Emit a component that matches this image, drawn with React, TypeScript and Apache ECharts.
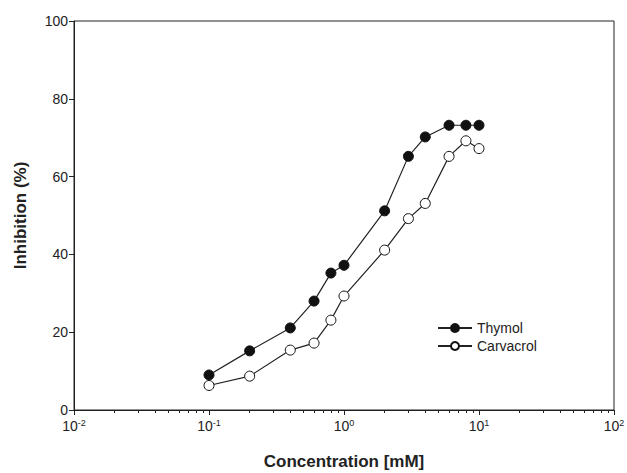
import React, { useEffect, useRef } from "react";
import * as echarts from "echarts";

const concentrations = [0.1, 0.2, 0.4, 0.6, 0.8, 1, 2, 3, 4, 6, 8, 10];
const thymol = [9.0, 15.2, 21.1, 28.0, 35.2, 37.2, 51.2, 65.2, 70.2, 73.2, 73.2, 73.2];
const carvacrol = [6.3, 8.7, 15.4, 17.2, 23.1, 29.3, 41.1, 49.2, 53.1, 65.2, 69.2, 67.2];
const majorTicks = [0.01, 0.1, 1, 10, 100];
const minorTicks = [
  0.02, 0.03, 0.04, 0.05, 0.06, 0.07, 0.08, 0.09,
  0.2, 0.3, 0.4, 0.5, 0.6, 0.7, 0.8, 0.9,
  2, 3, 4, 5, 6, 7, 8, 9,
  20, 30, 40, 50, 60, 70, 80, 90,
];

const FONT = "Liberation Sans, Arial, sans-serif";
const INK = "#222";

export default function App() {
  const ref = useRef<HTMLDivElement>(null);
  useEffect(() => {
    if (!ref.current) return;
    const chart = echarts.init(ref.current, undefined, { renderer: "svg" });
    chart.setOption({
      animation: false,
      backgroundColor: "#fff",
      textStyle: { fontFamily: FONT },
      grid: {
        left: 74,
        right: 13,
        top: 21,
        bottom: 63,
        containLabel: false,
        outerBoundsMode: "none",
        show: true,
        borderColor: INK,
        borderWidth: 1,
      },
      legend: {
        orient: "vertical",
        left: 432,
        top: 316,
        itemWidth: 34,
        itemHeight: 10,
        itemGap: 4,
        textStyle: { fontSize: 14, color: INK, fontFamily: FONT },
        data: ["Thymol", "Carvacrol"],
      },
      xAxis: [
        {
          type: "log",
          logBase: 10,
          min: 0.01,
          max: 100,
          name: "Concentration [mM]",
          nameLocation: "middle",
          nameGap: 43,
          nameTextStyle: { fontSize: 17, fontWeight: "bold", color: INK, fontFamily: FONT },
          axisLine: { lineStyle: { color: INK, width: 1 } },
          axisTick: { show: true, length: 5, inside: false, customValues: majorTicks, lineStyle: { color: INK } },
          axisLabel: {
            color: INK,
            fontSize: 14,
            margin: 8,
            customValues: majorTicks,
            formatter: (v: number) => {
              const e = Math.round(Math.log10(v));
              return "10{sup|" + e + "}";
            },
            rich: {
              sup: { fontSize: 9, verticalAlign: "top", color: INK, padding: [0, 0, 6, 0] },
            },
          },
          splitLine: { show: false },
        },
        {
          type: "log",
          logBase: 10,
          min: 0.01,
          max: 100,
          position: "bottom",
          axisLine: { show: false },
          axisTick: { show: true, length: 3, inside: false, customValues: minorTicks, lineStyle: { color: INK } },
          axisLabel: { show: false },
          splitLine: { show: false },
        },
      ],
      yAxis: {
        type: "value",
        min: 0,
        max: 100,
        interval: 20,
        name: "Inhibition (%)",
        nameLocation: "middle",
        nameGap: 45,
        nameTextStyle: { fontSize: 17, fontWeight: "bold", color: INK, fontFamily: FONT },
        axisLine: { show: true, lineStyle: { color: INK, width: 1 } },
        axisTick: { show: true, length: 5, lineStyle: { color: INK } },
        axisLabel: { color: INK, fontSize: 14, margin: 6 },
        splitLine: { show: false },
      },
      series: [
        {
          name: "Thymol",
          type: "line",
          data: concentrations.map((c, i) => [c, thymol[i]]),
          symbol: "circle",
          symbolSize: 10,
          lineStyle: { color: INK, width: 1.2 },
          itemStyle: { color: "#111", borderColor: "#111", borderWidth: 1 },
        },
        {
          name: "Carvacrol",
          type: "line",
          data: concentrations.map((c, i) => [c, carvacrol[i]]),
          symbol: "circle",
          symbolSize: 10,
          lineStyle: { color: INK, width: 1.2 },
          itemStyle: { color: "#fff", borderColor: "#111", borderWidth: 1 },
        },
      ],
    });
    return () => chart.dispose();
  }, []);
  return <div ref={ref} style={{ width: 627, height: 473, position: "absolute", left: 0, top: 0 }} />;
}
